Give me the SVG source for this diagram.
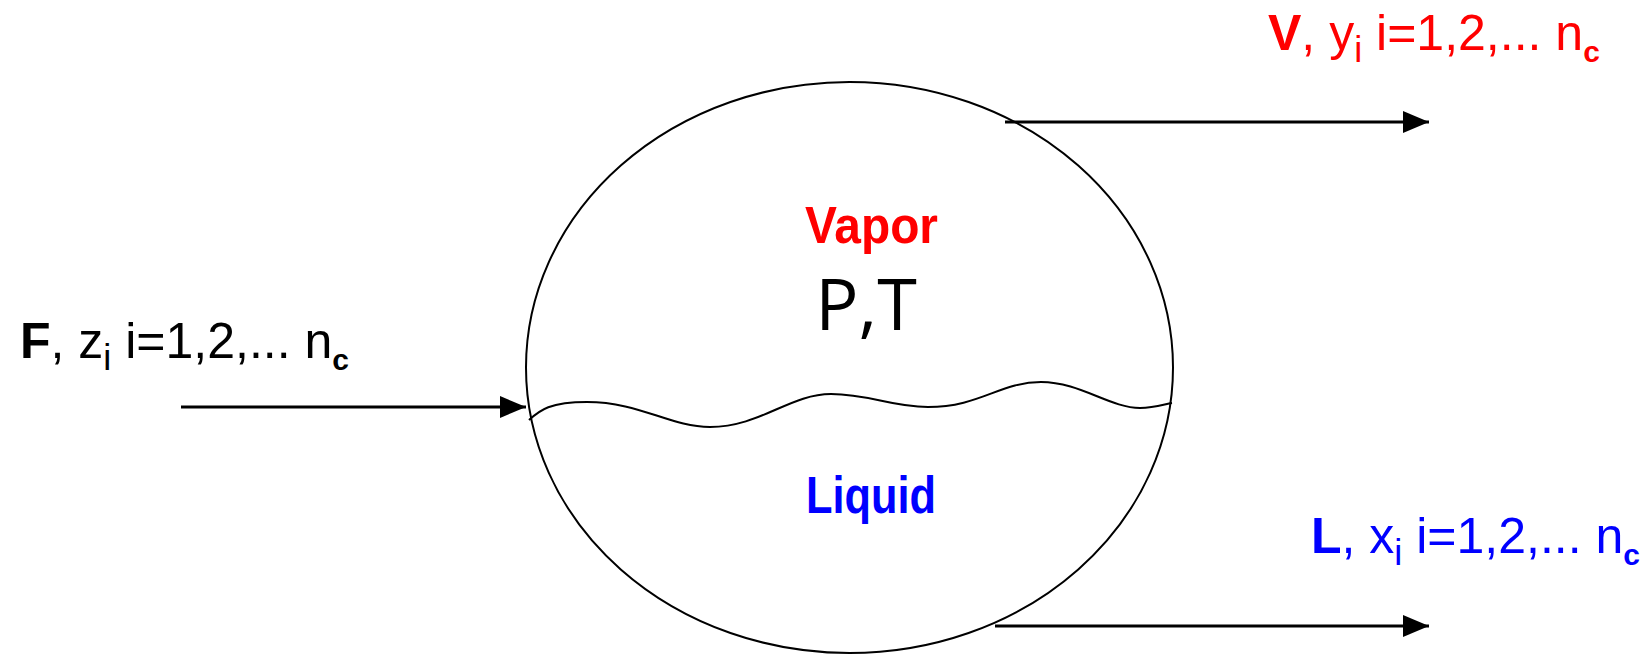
<svg xmlns="http://www.w3.org/2000/svg" width="1641" height="655" viewBox="0 0 1641 655">
<style>
.lbl{font-family:"Liberation Sans",Arial,sans-serif;font-size:50px}
.b{font-weight:bold}
.sub{font-size:30px}
.subi{font-size:36px}
.red{fill:#FF0000}
.blue{fill:#0000FF}
.blk{fill:#000000}
.edge{stroke:#000;stroke-width:3;fill:none}
.outline{stroke:#000;stroke-width:2;fill:none}
</style>
<defs>
<marker id="arr" markerUnits="userSpaceOnUse" markerWidth="26" markerHeight="22" refX="26" refY="11" orient="auto">
<path d="M0,0 L26,11 L0,22 Z" fill="#000"/>
</marker>
</defs>
<rect width="1641" height="655" fill="#fff"/>
<g id="drum">
<ellipse class="outline" cx="849.5" cy="367.5" rx="323.5" ry="285.5"/>
<path class="outline" d="M529 420 C540 410,550 402,587 402 C640 402,670 427,710 427 C760 427,790 394,831 394 C870 394,890 407,928 407 C980 407,1000 382,1041 382 C1080 382,1110 408,1140 408 C1155 408,1165 404,1172 403"/>
<text class="lbl b red" x="805" y="243" textLength="133" lengthAdjust="spacingAndGlyphs" style="font-size:52px">Vapor</text>
<text x="866" y="330" text-anchor="middle" style="font-family:'Open Sans','Noto Sans',sans-serif;font-size:72px" fill="#000">P,T</text>
<text class="lbl b blue" x="806" y="513" textLength="130" lengthAdjust="spacingAndGlyphs" style="font-size:52px">Liquid</text>
</g>
<g id="feed-label">
<text class="lbl blk" x="20" y="358"><tspan class="b">F</tspan>, z<tspan class="subi" dy="12">i</tspan><tspan dy="-12"> i=1,2,... n</tspan><tspan class="sub b" dy="12">c</tspan></text>
</g>
<g id="vapor-label">
<text class="lbl red" x="1268" y="50"><tspan class="b">V</tspan>, y<tspan class="subi" dy="12">i</tspan><tspan dy="-12"> i=1,2,... n</tspan><tspan class="sub b" dy="12">c</tspan></text>
</g>
<g id="liquid-label">
<text class="lbl blue" x="1311" y="553"><tspan class="b">L</tspan>, x<tspan class="subi" dy="12">i</tspan><tspan dy="-12"> i=1,2,... n</tspan><tspan class="sub b" dy="12">c</tspan></text>
</g>
<g id="connectors">
<line class="edge" x1="181" y1="407" x2="526" y2="407" marker-end="url(#arr)"/>
<line class="edge" x1="1005" y1="122" x2="1429" y2="122" marker-end="url(#arr)"/>
<line class="edge" x1="995" y1="626" x2="1429" y2="626" marker-end="url(#arr)"/>
</g>
</svg>
